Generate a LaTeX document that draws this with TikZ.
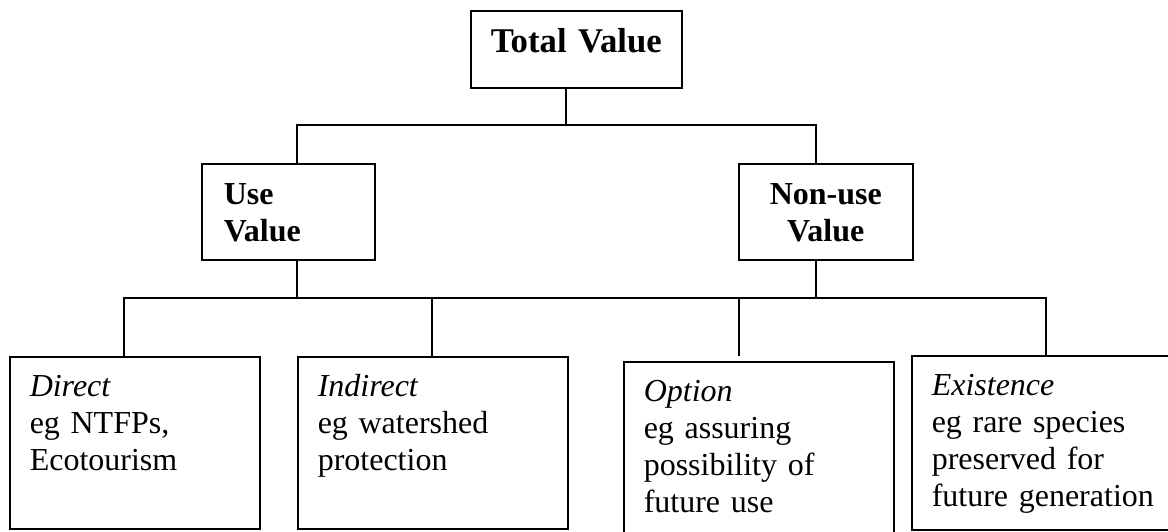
\documentclass[tikz,border=0pt]{standalone}
\usepackage{fontspec}
\setmainfont{Liberation Serif}
\newcommand{\lowfont}{\fontsize{32}{36.8}\selectfont}
\newcommand{\midfont}{\fontsize{32}{36.8}\selectfont\bfseries}
\newcommand{\totfont}{\fontsize{34.7}{40}\selectfont\bfseries}

\begin{document}
\begin{tikzpicture}[x=1pt, y=-1pt,
  conn/.style={line width=1.5pt},
  headbox/.style 2 args={draw, line width=1.5pt, anchor=north west, inner xsep=22pt, inner ysep=0pt,
                         text width=#1, text height=41pt, text depth=#2, font=\midfont},
  valbox/.style 2 args={draw, line width=1.5pt, anchor=north west, inner xsep=20pt, inner ysep=0pt,
                        align=left, text width=#1, text height=40pt, text depth=#2, font=\lowfont},
]
  \useasboundingbox (0,0) rectangle (1168,531);
  \clip (0,0) rectangle (1168,531);

  % boxes
  \node[headbox={171pt}{35pt}, inner xsep=20pt, text height=42pt, align=center, font=\totfont]
       (tv) at (470,10) {Total Value};
  \node[headbox={129pt}{55pt}, align=left]   (uv) at (201,163) {Use\\Value};
  \node[headbox={130pt}{55pt}, align=center] (nv) at (738,163) {Non-use\\Value};

  \node[valbox={210pt}{132pt}] (dir) at (9,356)     {\textit{Direct}\\eg NTFPs,\\Ecotourism};
  \node[valbox={230pt}{132pt}] (ind) at (297,356)   {\textit{Indirect}\\eg watershed\\protection};
  \node[valbox={230pt}{140pt}] (opt) at (623,361)   {\textit{Option}\\eg assuring\\possibility of\\future use};
  \node[valbox={230pt}{134pt}] (ex)  at (911,355)   {\textit{Existence}\\eg rare species\\preserved for\\future generation};

  % joints of the tree
  \coordinate (tjoin) at (566,125);
  \coordinate (ujoinT) at (297,125);
  \coordinate (njoinT) at (816,125);
  \coordinate (ujoin) at (297,298);
  \coordinate (njoin) at (816,298);
  \coordinate (wjoin) at (124,298);
  \coordinate (ejoin) at (1046,298);
  \coordinate (ijoin) at (432,298);
  \coordinate (ojoin) at (739,298);
  \coordinate (oend)  at (739,356);

  \draw[conn] (tv.south -| tjoin) -- (tjoin);
  \draw[conn] (uv.north -| ujoinT) |- (njoinT) -- (nv.north -| njoinT);
  \draw[conn] (uv.south -| ujoin) -- (ujoin);
  \draw[conn] (nv.south -| njoin) -- (njoin);
  \draw[conn] (dir.north -| wjoin) |- (ejoin) -- (ex.north -| ejoin);
  \draw[conn] (ind.north -| ijoin) -- (ijoin);
  \draw[conn] (ojoin) -- (oend);
\end{tikzpicture}
\end{document}
